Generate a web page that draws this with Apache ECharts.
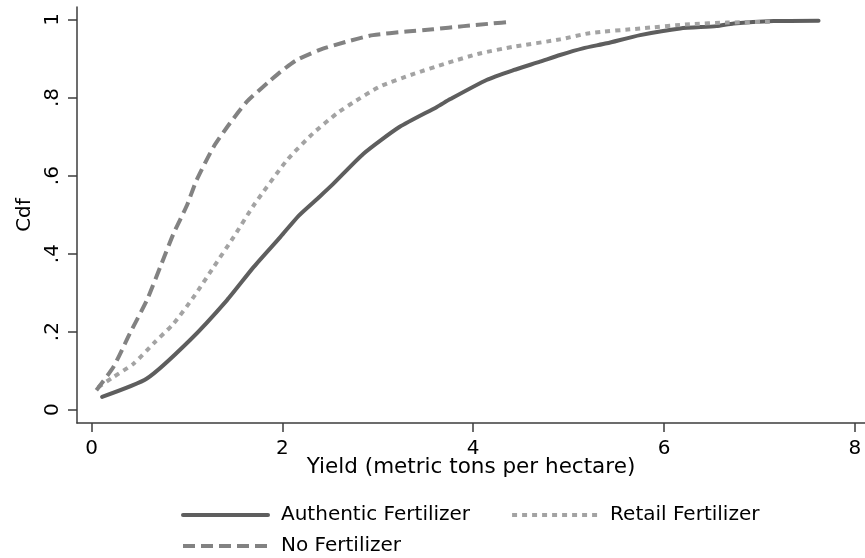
<!DOCTYPE html>
<html>
<head>
<meta charset="utf-8">
<script src="https://cdn.jsdelivr.net/npm/echarts@6/dist/echarts.min.js"></script>
<style>
html,body{margin:0;padding:0;background:#fff;}
#chart{width:865px;height:558px;}
</style>
</head>
<body>
<div id="chart"></div>
<script>
// ---- Data ----
const seriesNames = ['Authentic Fertilizer', 'Retail Fertilizer', 'No Fertilizer'];

const authenticX = [0.11, 0.58, 1.03, 1.42, 1.70, 1.98, 2.17, 2.39, 2.53, 2.85, 3.23, 3.62, 3.76, 4.14, 4.42, 4.70, 4.91, 5.15, 5.40, 5.75, 6.17, 6.55, 6.73, 7.15, 7.62];
const authenticY = [0.033, 0.080, 0.178, 0.281, 0.366, 0.443, 0.497, 0.546, 0.578, 0.656, 0.725, 0.776, 0.796, 0.845, 0.870, 0.892, 0.909, 0.926, 0.939, 0.960, 0.977, 0.983, 0.990, 0.996, 0.997];

const retailX = [0.07, 0.23, 0.44, 0.65, 0.86, 1.07, 1.28, 1.49, 1.70, 2.05, 2.32, 2.57, 2.74, 3.02, 3.37, 3.72, 4.07, 4.42, 4.91, 5.22, 5.75, 6.27, 6.66, 7.11];
const retailY = [0.058, 0.084, 0.118, 0.170, 0.221, 0.289, 0.366, 0.443, 0.524, 0.640, 0.708, 0.759, 0.787, 0.828, 0.860, 0.888, 0.913, 0.930, 0.949, 0.965, 0.977, 0.988, 0.992, 0.994];

const noFertX = [0.05, 0.23, 0.40, 0.58, 0.72, 0.86, 1.00, 1.10, 1.28, 1.45, 1.63, 1.87, 1.98, 2.15, 2.39, 2.67, 2.95, 3.30, 3.58, 3.90, 4.21, 4.39];
const noFertY = [0.050, 0.110, 0.195, 0.281, 0.366, 0.452, 0.524, 0.588, 0.674, 0.734, 0.790, 0.843, 0.866, 0.896, 0.922, 0.943, 0.960, 0.969, 0.975, 0.983, 0.990, 0.994];

const xTicks = [0, 2, 4, 6, 8];
const xTickLabels = ['0', '2', '4', '6', '8'];
const yTicks = [0, 0.2, 0.4, 0.6, 0.8, 1];
const yTickLabels = ['0', '.2', '.4', '.6', '.8', '1'];

const xTitle = 'Yield (metric tons per hectare)';
const yTitle = 'Cdf';

// ---- Chart ----
const pairs = (xs, ys) => xs.map((x, i) => [x, ys[i]]);
const FONT = 'DejaVu Sans';
const AX = '#3c3c3c';

const chart = echarts.init(document.getElementById('chart'), null, {renderer: 'canvas'});

const lineCommon = {type: 'line', showSymbol: false, symbol: 'none', smooth: 0.2, animation: false};

const legendCommon = {
  orient: 'horizontal',
  itemWidth: 85, itemHeight: 20,
  textStyle: {fontFamily: FONT, fontSize: 20, color: '#000', padding: [0, 0, 0, 8]},
  itemStyle: {opacity: 0},
  lineStyle: {width: 4},
  selectedMode: false
};

chart.setOption({
  animation: false,
  backgroundColor: '#ffffff',
  textStyle: {fontFamily: FONT},
  grid: {left: 77, right: 0, top: 7, bottom: 135, containLabel: false},
  xAxis: {
    type: 'value',
    min: -0.153, max: 8.107,
    name: xTitle,
    nameLocation: 'middle',
    nameGap: 33,
    nameMoveOverlap: false,
    nameTextStyle: {fontFamily: FONT, fontSize: 21.5, color: '#000'},
    axisLine: {show: true, onZero: false, lineStyle: {color: AX, width: 1.5}},
    axisTick: {show: true, length: 9, lineStyle: {color: AX, width: 1.5}, customValues: xTicks},
    axisLabel: {
      fontFamily: FONT, fontSize: 20, color: '#000', margin: 16,
      customValues: xTicks,
      formatter: v => xTickLabels[xTicks.indexOf(v)] ?? ''
    },
    splitLine: {show: false}
  },
  yAxis: {
    type: 'value',
    min: -0.034, max: 1.032,
    name: yTitle,
    nameLocation: 'middle',
    nameGap: 42,
    nameRotate: 90,
    nameMoveOverlap: false,
    nameTextStyle: {fontFamily: FONT, fontSize: 20, color: '#000'},
    axisLine: {show: true, onZero: false, lineStyle: {color: AX, width: 1.5}},
    axisTick: {show: true, length: 9, lineStyle: {color: AX, width: 1.5}, customValues: yTicks},
    axisLabel: {
      fontFamily: FONT, fontSize: 20, color: '#000', margin: 14, rotate: 90,
      customValues: yTicks,
      formatter: v => {
        const i = yTicks.findIndex(t => Math.abs(t - v) < 1e-9);
        return i >= 0 ? yTickLabels[i] : '';
      }
    },
    splitLine: {show: false}
  },
  legend: [
    Object.assign({}, legendCommon, {
      data: [seriesNames[0], seriesNames[1]],
      left: 176, top: 500,
      itemGap: 40
    }),
    Object.assign({}, legendCommon, {
      data: [seriesNames[2]],
      left: 176, top: 531
    })
  ],
  series: [
    Object.assign({}, lineCommon, {
      name: seriesNames[0],
      data: pairs(authenticX, authenticY),
      color: '#5e5e5e',
      lineStyle: {color: '#5e5e5e', width: 4, type: 'solid', cap: 'round', join: 'round'},
      z: 2
    }),
    Object.assign({}, lineCommon, {
      name: seriesNames[1],
      data: pairs(retailX, retailY),
      color: '#a3a3a3',
      lineStyle: {color: '#a3a3a3', width: 4, type: [5, 5], cap: 'butt', join: 'round'},
      z: 3
    }),
    Object.assign({}, lineCommon, {
      name: seriesNames[2],
      data: pairs(noFertX, noFertY),
      color: '#828282',
      lineStyle: {color: '#828282', width: 4, type: [12, 6], cap: 'butt', join: 'round'},
      z: 4
    })
  ]
});
</script>
</body>
</html>
